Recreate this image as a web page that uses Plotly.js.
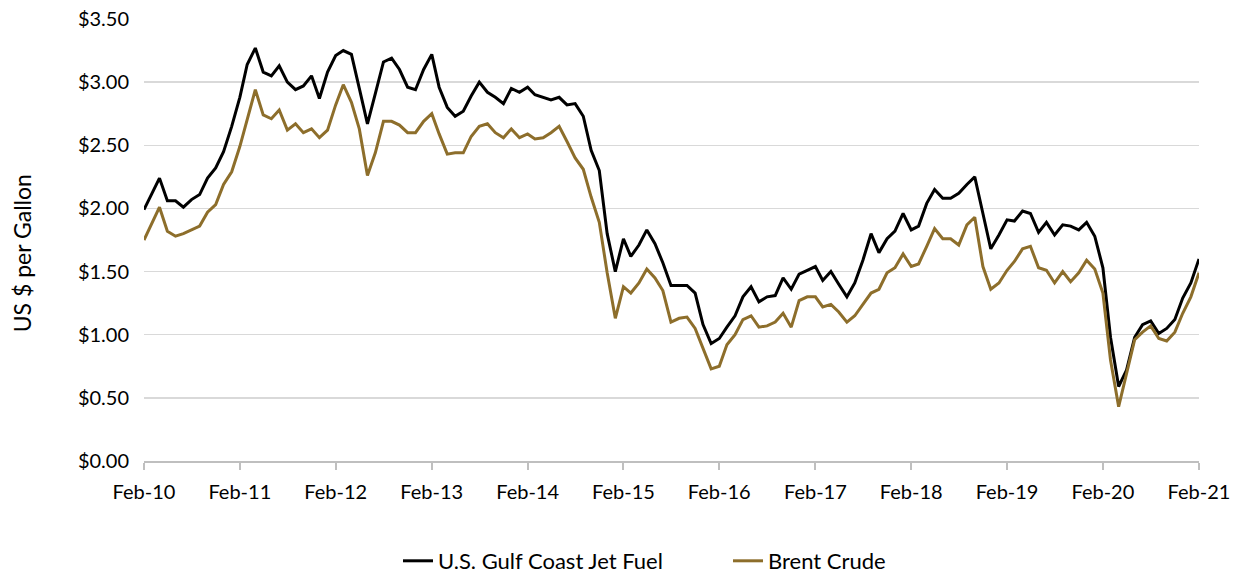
<!DOCTYPE html>
<html>
<head>
<meta charset="utf-8">
<script src="https://cdn.plot.ly/plotly-3.0.1.min.js"></script>
<style>
html,body{margin:0;padding:0;background:#fff;}
#chart{width:1243px;height:573px;}
</style>
</head>
<body>
<div id="chart"></div>
<script>
// First month and number of monthly observations (Feb-2010 .. Feb-2021)
var startYear = 2010, startMonth = 2, monthCount = 133;

var jetFuel = [
1.99,2.11,2.24,2.06,2.06,2.01,2.07,2.11,2.24,2.32,2.45,2.65,
2.88,3.14,3.27,3.08,3.05,3.13,3.00,2.94,2.97,3.05,2.87,3.08,
3.21,3.25,3.22,2.95,2.67,2.91,3.16,3.19,3.10,2.96,2.94,3.10,
3.22,2.96,2.80,2.73,2.77,2.89,3.00,2.92,2.88,2.83,2.95,2.92,
2.96,2.90,2.88,2.86,2.88,2.82,2.83,2.73,2.46,2.30,1.80,1.50,
1.76,1.62,1.71,1.83,1.72,1.57,1.39,1.39,1.39,1.33,1.08,0.93,
0.97,1.06,1.15,1.30,1.38,1.26,1.30,1.31,1.45,1.36,1.48,1.51,
1.54,1.43,1.50,1.40,1.30,1.41,1.59,1.80,1.65,1.76,1.82,1.96,
1.83,1.86,2.04,2.15,2.08,2.08,2.12,2.19,2.25,1.96,1.68,1.79,
1.91,1.90,1.98,1.96,1.81,1.89,1.79,1.87,1.86,1.83,1.89,1.78,
1.53,0.98,0.59,0.72,0.98,1.08,1.11,1.01,1.05,1.12,1.29,1.41,
1.60
];

var brentCrude = [
1.75,1.88,2.01,1.82,1.78,1.80,1.83,1.86,1.97,2.03,2.19,2.29,
2.49,2.71,2.94,2.74,2.71,2.78,2.62,2.67,2.60,2.63,2.56,2.62,
2.82,2.98,2.84,2.63,2.26,2.44,2.69,2.69,2.66,2.60,2.60,2.69,
2.75,2.59,2.43,2.44,2.44,2.57,2.65,2.67,2.60,2.56,2.63,2.56,
2.59,2.55,2.56,2.60,2.65,2.53,2.40,2.31,2.09,1.89,1.49,1.13,
1.38,1.33,1.41,1.52,1.45,1.35,1.10,1.13,1.14,1.05,0.89,0.73,
0.75,0.92,1.00,1.12,1.15,1.06,1.07,1.10,1.17,1.06,1.27,1.30,
1.30,1.22,1.24,1.18,1.10,1.15,1.24,1.33,1.36,1.49,1.53,1.64,
1.54,1.56,1.70,1.84,1.76,1.76,1.71,1.87,1.93,1.54,1.36,1.41,
1.51,1.58,1.68,1.70,1.53,1.51,1.41,1.50,1.42,1.49,1.59,1.52,
1.33,0.80,0.43,0.69,0.96,1.02,1.07,0.97,0.95,1.02,1.17,1.30,
1.49
];

var seriesNames = ["U.S. Gulf Coast Jet Fuel", "Brent Crude"];
var yTickValues = [0, 0.5, 1, 1.5, 2, 2.5, 3, 3.5];
var yTickLabels = ["$0.00","$0.50","$1.00","$1.50","$2.00","$2.50","$3.00","$3.50"];
var yAxisTitle = "US $ per Gallon";

function pad(n){ return (n < 10 ? "0" : "") + n; }
var months = [];
for (var k = 0; k < monthCount; k++) {
  var m = startMonth - 1 + k;
  var y = startYear + Math.floor(m / 12);
  months.push(y + "-" + pad((m % 12) + 1) + "-01");
}

var FONT = "Lato, 'Open Sans', sans-serif";

var traces = [
  {x: months, y: jetFuel, name: seriesNames[0], type: "scatter", mode: "lines",
   line: {color: "#000000", width: 3}},
  {x: months, y: brentCrude, name: seriesNames[1], type: "scatter", mode: "lines",
   line: {color: "#8D6E2B", width: 3}}
];

var layout = {
  width: 1243, height: 573,
  margin: {l: 144, r: 44, t: 19, b: 112, autoexpand: false},
  paper_bgcolor: "#ffffff", plot_bgcolor: "#ffffff",
  font: {family: FONT, size: 20, color: "#000000"},
  showlegend: true,
  legend: {orientation: "h", xref: "container", x: 398/1243, xanchor: "left",
           yref: "container", y: 12/573, yanchor: "middle",
           entrywidth: 285, entrywidthmode: "pixels",
           font: {family: FONT, size: 22, color: "#000"}, traceorder: "normal"},
  xaxis: {
    type: "date",
    range: [months[0], months[monthCount - 1]],
    tick0: months[0], dtick: "M12", tickformat: "%b-%y",
    showgrid: false, zeroline: false,
    showline: true, linecolor: "#bfbfbf", linewidth: 2,
    ticks: "outside", ticklen: 7, tickcolor: "#bfbfbf", tickwidth: 2,
    ticklabelstandoff: 5,
    tickfont: {family: FONT, size: 20, color: "#000"},
    automargin: false,
    fixedrange: true
  },
  yaxis: {
    range: [0, 3.5],
    tickvals: yTickValues, ticktext: yTickLabels,
    showgrid: true, gridcolor: "#d9d9d9", gridwidth: 1.5,
    zeroline: false, showline: false, ticks: "",
    ticklabelstandoff: 14,
    tickfont: {family: FONT, size: 20, color: "#000"},
    automargin: false,
    fixedrange: true
  },
  annotations: [{
    text: yAxisTitle, textangle: -90, showarrow: false,
    xref: "paper", yref: "paper", x: -0.116, y: 0.469,
    xanchor: "center", yanchor: "middle",
    font: {family: FONT, size: 23, color: "#000"}
  }]
};

Plotly.newPlot("chart", traces, layout, {displayModeBar: false, staticPlot: true});
</script>
</body>
</html>
